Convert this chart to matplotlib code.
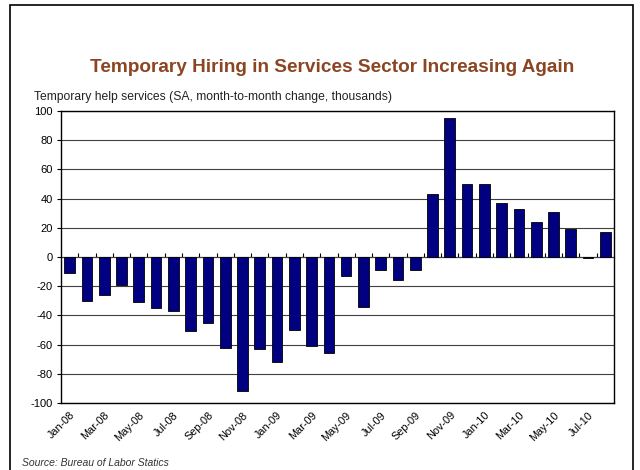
import matplotlib
matplotlib.use('Agg')
import matplotlib.pyplot as plt
from matplotlib.patches import Rectangle

# === DATA ===
months = ['Jan-08', 'Feb-08', 'Mar-08', 'Apr-08', 'May-08', 'Jun-08', 'Jul-08', 'Aug-08',
          'Sep-08', 'Oct-08', 'Nov-08', 'Dec-08', 'Jan-09', 'Feb-09', 'Mar-09', 'Apr-09',
          'May-09', 'Jun-09', 'Jul-09', 'Aug-09', 'Sep-09', 'Oct-09', 'Nov-09', 'Dec-09',
          'Jan-10', 'Feb-10', 'Mar-10', 'Apr-10', 'May-10', 'Jun-10', 'Jul-10', 'Aug-10']
change = [-11, -30, -26, -19, -31, -35, -37, -51, -45, -62, -92, -63, -72, -50, -61, -66,
          -13, -34, -9, -16, -9, 43, 95, 50, 50, 37, 33, 24, 31, 19, -1, 17]
y_ticks = [-100, -80, -60, -40, -20, 0, 20, 40, 60, 80, 100]

plt.rcParams['font.family'] = ['Liberation Sans', 'DejaVu Sans']

fig = plt.figure(figsize=(6.4, 4.7), dpi=100)
ax = fig.add_axes([61 / 640, 1 - 403 / 470, 553 / 640, 292 / 470])

# outer frame
fig.patches.append(Rectangle((10 / 640, -0.05), 623 / 640, 1.04, transform=fig.transFigure,
                             fill=False, edgecolor='black', linewidth=1.2))

x = list(range(len(months)))
ax.bar(x, change, width=0.62, color='#000080', edgecolor='black', linewidth=0.6, zorder=3)

ax.set_xlim(-0.5, len(months) - 0.5)
ax.set_ylim(-100, 100)
ax.set_yticks(y_ticks)
ax.set_yticklabels([str(v) for v in y_ticks], fontsize=8)
ax.yaxis.grid(True, color='#404040', linewidth=0.8, zorder=1)
ax.tick_params(axis='y', length=3, width=0.8, pad=3)

ax.set_xticks(x[::2])
ax.set_xticklabels(months[::2], rotation=45, ha='right', rotation_mode='anchor', fontsize=7.8)
ax.tick_params(axis='x', length=0, pad=5)

for s in ax.spines.values():
    s.set_linewidth(1.0)

# category ticks on the zero line
sec = ax.secondary_xaxis(0.5)
sec.set_xticks([i + 0.5 for i in x[:-1]])
sec.set_xticklabels([])
sec.tick_params(length=3, width=0.8)
sec.spines['bottom'].set_visible(False)

fig.text(0.519, 1 - 68 / 470, 'Temporary Hiring in Services Sector Increasing Again',
         ha='center', va='center', fontsize=13.7, fontweight='bold', color='#8C4522')
fig.text(34 / 640, 1 - 97 / 470, 'Temporary help services (SA, month-to-month change, thousands)',
         ha='left', va='center', fontsize=8.7, color='#222222')
fig.text(22 / 640, 1 - 463 / 470, 'Source: Bureau of Labor Statics',
         ha='left', va='center', fontsize=7.5, style='italic', color='#333333')

fig.savefig('out.png', dpi=100)
